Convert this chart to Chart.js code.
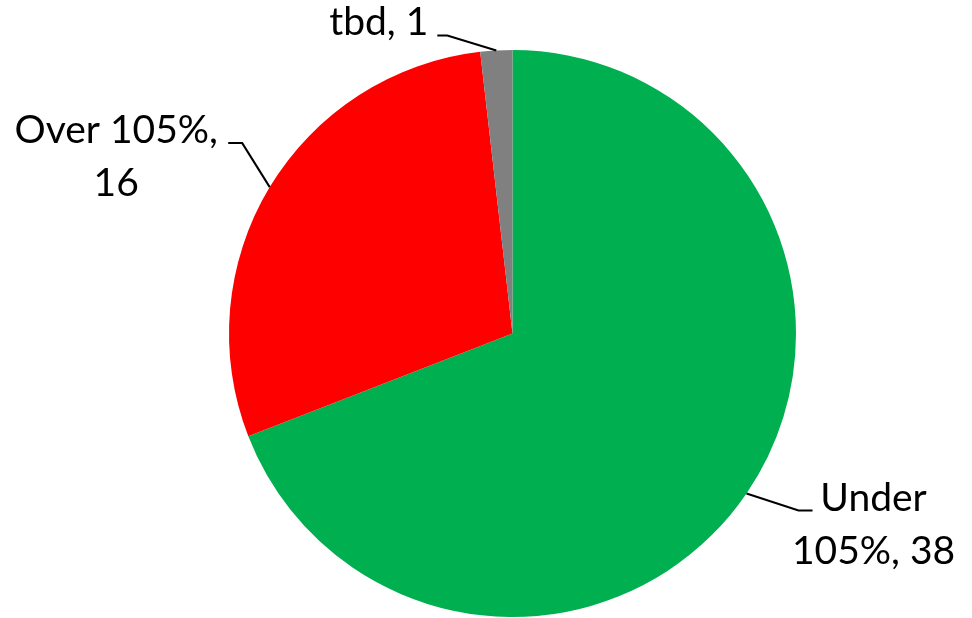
<!DOCTYPE html>
<html>
<head>
<meta charset="utf-8">
<script src="https://cdn.jsdelivr.net/npm/chart.js@4"></script>
<style>
  html, body { margin: 0; padding: 0; background: #fff; }
  #wrap { width: 972px; height: 618px; }
</style>
</head>
<body>
<div id="wrap"><canvas id="pieChart" width="972" height="618"></canvas></div>
<script>
  // data
  const categories = ['Under 105%', 'Over 105%', 'tbd'];
  const counts = [38, 16, 1];
  const sliceColors = ['#00B050', '#FF0000', '#808080'];

  // label text lines per slice
  const labelLines = [
    ['Under', '105%, 38'],
    ['Over 105%,', '16'],
    ['tbd, 1']
  ];

  // leader line + text placement, relative to the slice's outer mid point
  const labelLayout = [
    { elbow: [52, 17], end: [66, 17], text: [127, 17], align: 'center' },
    { elbow: [-27.5, -44], end: [-41.5, -44], text: [-153.5, -44], align: 'center' },
    { elbow: [-49, -15], end: [-59, -15], text: [-68, -15], align: 'right' }
  ];

  const leaderLabels = {
    id: 'leaderLabels',
    afterDraw(chart) {
      const ctx = chart.ctx;
      const meta = chart.getDatasetMeta(0);
      ctx.save();
      ctx.font = '39px Lato, "Open Sans", sans-serif';
      ctx.fillStyle = '#000';
      ctx.strokeStyle = '#000';
      ctx.lineWidth = 2;
      ctx.textBaseline = 'alphabetic';
      meta.data.forEach((arc, i) => {
        const p = arc.getProps(['x', 'y', 'startAngle', 'endAngle', 'outerRadius'], true);
        const mid = (p.startAngle + p.endAngle) / 2;
        const ax = p.x + Math.cos(mid) * p.outerRadius;
        const ay = p.y + Math.sin(mid) * p.outerRadius;
        const lay = labelLayout[i];
        ctx.beginPath();
        ctx.moveTo(ax, ay);
        ctx.lineTo(ax + lay.elbow[0], ay + lay.elbow[1]);
        ctx.lineTo(ax + lay.end[0], ay + lay.end[1]);
        ctx.stroke();
        ctx.textAlign = lay.align;
        labelLines[i].forEach((line, k) => {
          ctx.fillText(line, ax + lay.text[0], ay + lay.text[1] + k * 53);
        });
      });
      ctx.restore();
    }
  };

  const ctx = document.getElementById('pieChart').getContext('2d');
  new Chart(ctx, {
    type: 'pie',
    data: {
      labels: categories,
      datasets: [{
        data: counts,
        backgroundColor: sliceColors,
        borderWidth: 0
      }]
    },
    options: {
      responsive: false,
      animation: false,
      layout: { padding: { top: 50, bottom: 1, left: 229, right: 176 } },
      plugins: {
        legend: { display: false },
        tooltip: { enabled: false }
      }
    },
    plugins: [leaderLabels]
  });
</script>
</body>
</html>
